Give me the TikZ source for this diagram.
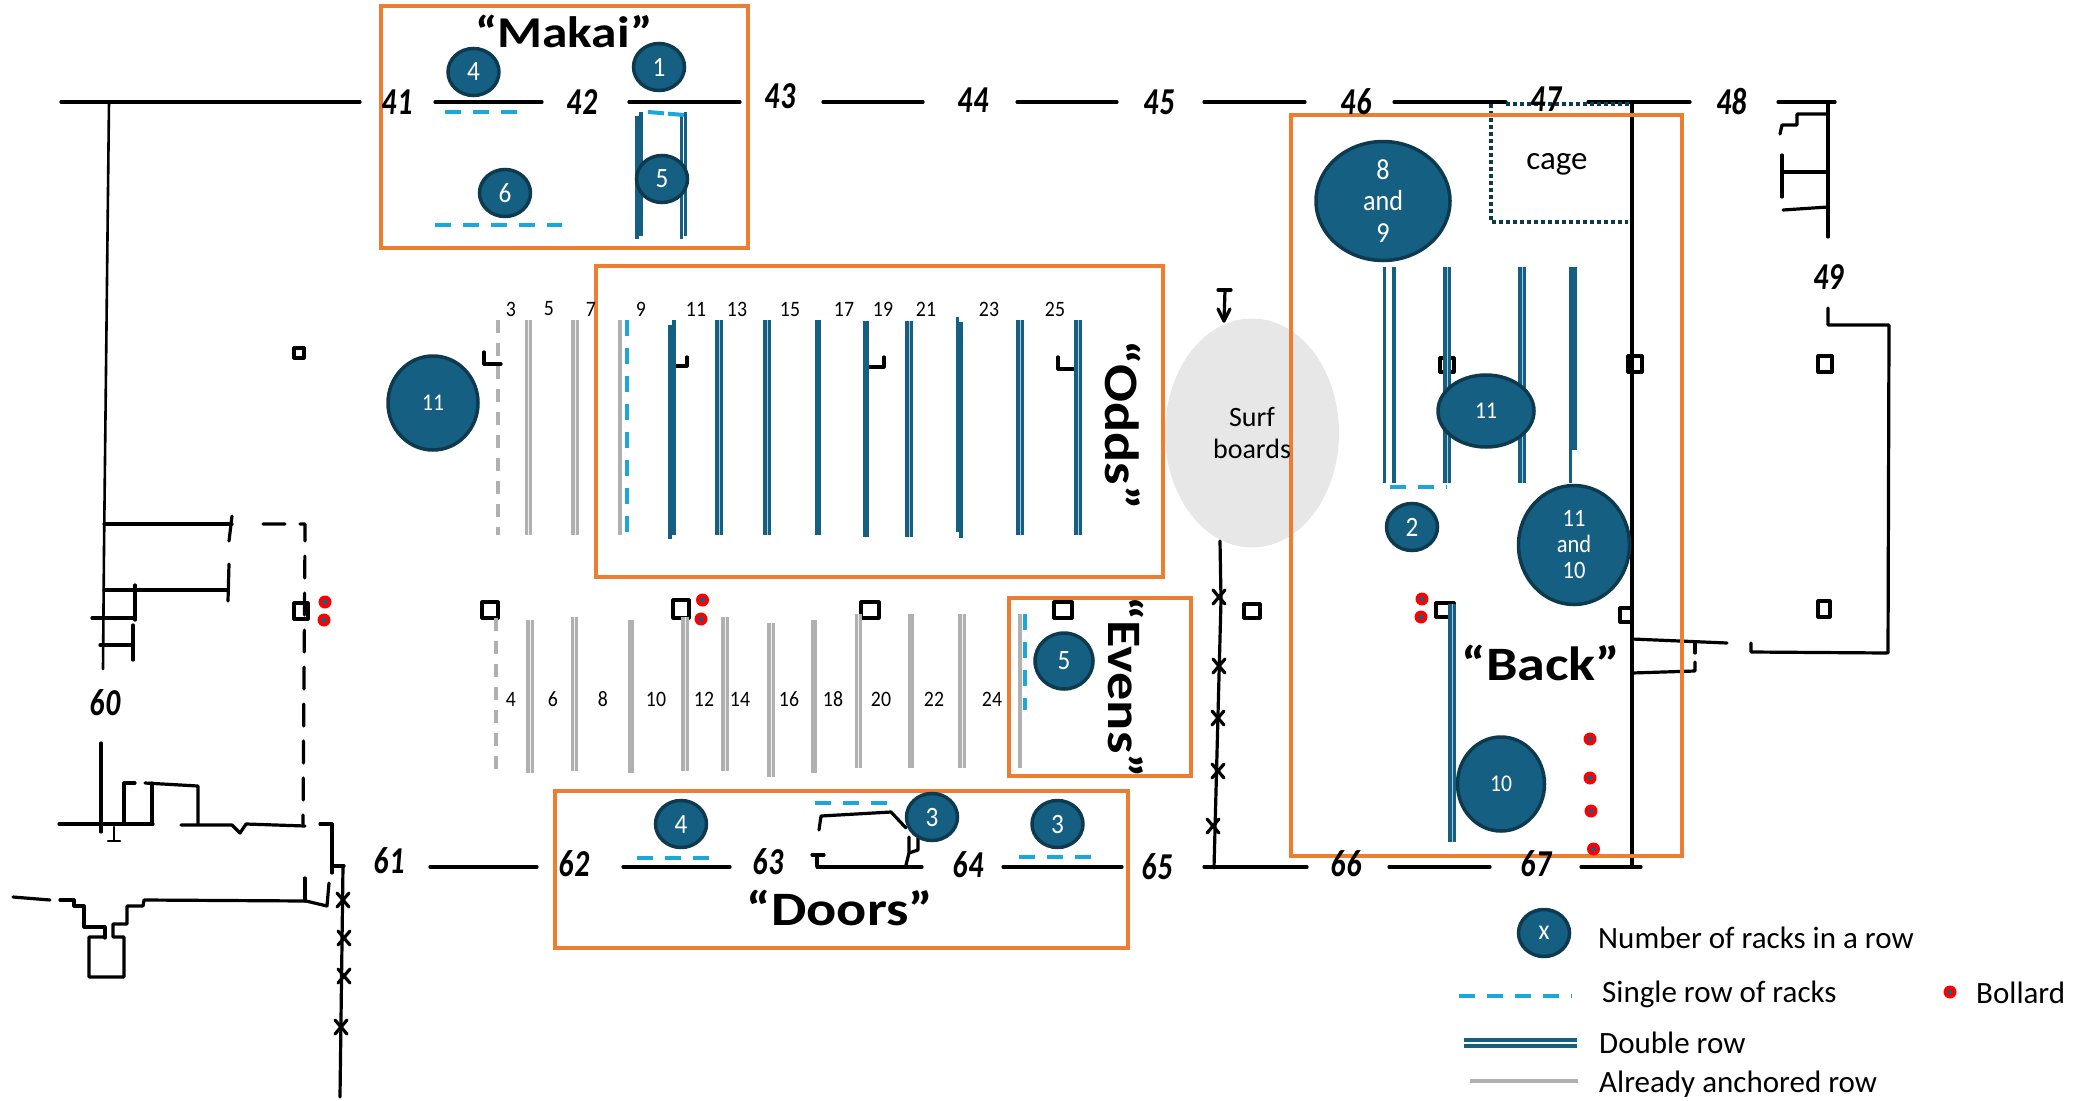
\documentclass[tikz,border=0pt]{standalone}
\usepackage{fontspec}
\usepackage{xcolor}
\usepackage{tikz}
\usetikzlibrary{shapes.geometric}
\setmainfont{Carlito}
\newfontfamily\handfont[FakeStretch=0.78, FakeSlant=0.08]{Carlito}
\newfontfamily\narrowfont[FakeStretch=0.9]{Carlito}
\newfontfamily\zonefont[FakeStretch=1.17]{Carlito}
\definecolor{rackblue}{HTML}{156082}
\definecolor{rackedge}{HTML}{0E3A50}
\definecolor{singleblue}{HTML}{1CA7DC}
\definecolor{anchorgray}{HTML}{B0B0B0}
\definecolor{zoneorange}{HTML}{ED7D31}
\definecolor{surfgray}{HTML}{E7E7E7}
\tikzset{
    wall/.style={draw=black, line width=3.2pt, line cap=round, line join=round},
    thinwall/.style={draw=black, line width=2.2pt, line cap=round, line join=round},
    zonebox/.style={draw=zoneorange, line width=4.5pt},
    singlerow/.style={draw=singleblue, line width=4pt, dash pattern=on 16pt off 12pt},
    doublerow/.style={draw=rackblue, line width=3.6pt, double=white!65!rackblue, double distance=0.7pt},
    thinrow/.style={draw=rackblue, line width=3.5pt},
    anchoredrow/.style={draw=anchorgray, line width=3.6pt, double=white!80!anchorgray, double distance=0.6pt},
    anchoredgap/.style={draw=anchorgray, line width=4pt, dash pattern=on 13pt off 10pt},
    rackcount/.style={ellipse, draw=rackedge, fill=rackblue, line width=3.5pt, inner sep=0pt, text=white, align=center, font=\narrowfont\fontsize{28}{30}\selectfont},
    bollard/.style={circle, fill=red, minimum size=13pt, inner sep=0pt},
    bollardcore/.style={circle, fill=rackblue, minimum size=5pt, inner sep=0pt},
    gridlabel/.style={font=\handfont\bfseries\fontsize{38}{38}\selectfont, inner sep=0pt},
    rowlabel/.style={font=\narrowfont\fontsize{22}{22}\selectfont, inner sep=0pt},
    zonelabel/.style={font=\zonefont\bfseries\fontsize{48}{48}\selectfont, inner sep=0pt},
    legendlabel/.style={font=\fontsize{31}{31}\selectfont, inner sep=0pt, anchor=west},
}

\begin{document}
\begin{tikzpicture}[x=1pt, y=-1pt]
    \useasboundingbox (0,0) rectangle (2098,1100);

    % Surf boards sit under everything else
    \node[ellipse, fill=surfgray, minimum width=174pt, minimum height=229pt, inner sep=0pt] (Surf) at (1252,433) {};

    % Top and bottom building lines
    \foreach \a/\b in {61/360, 435/542, 629/740, 823/923, 1017/1117, 1204/1305, 1394/1506, 1588/1690, 1778/1835}
        \draw[wall] (\a,102) -- (\b,102);
    \foreach \a/\b in {430/537, 623/730, 817/922, 1003/1122, 1204/1307, 1389/1490, 1581/1641}
        \draw[wall] (\a,867) -- (\b,867);

    % Left side of the building
    \draw[wall, line width=2.6pt] (109,102) -- (104,550) -- (103,669);
    \draw[wall] (104,524) -- (232,524);
    \draw[wall] (232,516) -- (229,541);
    \draw[wall] (104,590) -- (227,590);
    \draw[wall] (229,564) -- (228,601);
    \draw[wall] (135,585) -- (135,620);
    \draw[wall] (92,618) -- (135,618);
    \draw[wall] (100,645) -- (133,645);
    \draw[wall] (133,625) -- (133,660);
    \draw[wall, dash pattern=on 22pt off 15pt] (263,524) -- (305,524) -- (305,538) -- (303,824);
    \draw[wall] (101,743) -- (101,832);
    \draw[wall] (59,824) -- (153,824);
    \draw[wall] (124,824) -- (124,783) -- (135,783);
    \draw[wall] (152,824) -- (152,783);
    \draw[wall] (145,783) -- (198,786) -- (198,824);
    \draw[wall] (181,825) -- (232,825) -- (240,833) -- (246,824) -- (305,826);
    \draw[thinwall] (114,827) -- (114,841);
    \draw[thinwall] (108,841) -- (120,841);
    \draw[wall] (320,824) -- (332,824) -- (332,873);
    \draw[wall] (332,866) -- (344,866);
    \draw[wall] (343,866) -- (340,1097);
    \draw[wall] (13,897) -- (50,900);
    \draw[wall] (60,900) -- (74,900) -- (74,906) -- (84,906) -- (84,927) -- (105,927) -- (105,938);
    \draw[wall] (105,937) -- (89,937) -- (89,977) -- (124,977) -- (124,937) -- (113,937) -- (113,924) -- (127,924) -- (127,906) -- (143,906) -- (144,900) -- (306,901) -- (327,906) -- (329,883);
    \draw[wall] (305,878) -- (305,901);

    % Fence crosses on both sides
    \foreach \x/\y in {343/900, 344/938, 344/976, 341/1027, 1219/597, 1219/666, 1218/718, 1218/771, 1213/826} {
        \draw[wall] (\x-6,\y-7) -- (\x+6,\y+7);
        \draw[wall] (\x+6,\y-7) -- (\x-6,\y+7);
    }
    \draw[wall] (1220,541) -- (1221,600) -- (1214,868);
    \draw[wall] (1218,290) -- (1231,290);
    \draw[wall] (1225,290) -- (1224,321);
    \draw[wall] (1218,309) -- (1224,321) -- (1230,309);

    % Door sketch between 63 and 64
    \draw[wall] (817,855) -- (817,866);
    \draw[wall] (812,855) -- (824,855);
    \draw[wall] (819,830) -- (821,816) -- (891,812) -- (906,828);
    \draw[wall] (909,837) -- (909,853) -- (906,865);
    \draw[wall] (918,838) -- (918,850) -- (909,853);

    % Right side of the building
    \draw[wall] (1828,104) -- (1828,237);
    \draw[wall] (1828,114) -- (1797,114) -- (1797,125) -- (1782,125) -- (1780,134);
    \draw[wall] (1782,155) -- (1782,197);
    \draw[wall] (1782,172) -- (1828,172);
    \draw[wall] (1783,210) -- (1828,207);
    \draw[wall] (1828,308) -- (1828,325) -- (1889,325) -- (1888,653);
    \draw[wall] (1751,643) -- (1751,652) -- (1887,653);
    \draw[wall] (1632,639) -- (1727,643);
    \draw[wall] (1695,643) -- (1695,653);
    \draw[wall] (1632,673) -- (1695,671) -- (1695,662);

    % Wall along the back, with the dotted cage
    \draw[wall, line width=4.2pt, line cap=butt] (1632,104) -- (1632,869);
    \draw[rackedge, line width=3.5pt, dash pattern=on 3.5pt off 3.5pt] (1506,104) -- (1632,104) (1491,104) -- (1491,222) -- (1628,222);

    % Small columns as drawn squares
    \foreach \x/\y/\w/\h in {299/353/5/5, 301/611/7/8, 490/610/8/8, 681/609/8/9, 870/610/9/8, 1063/610/9/8, 1252/611/8/7, 1445/610/9/7, 1626/615/6/7, 1824/609/6/8, 1447/365/7/7, 1635/364/7/8, 1825/364/7/8}
        \draw[wall] (\x-\w,\y-\h) rectangle (\x+\w,\y+\h);

    % L shaped columns in the odd rows
    \foreach \a/\b/\y/\t in {484/501/364/352, 687/672/366/357, 884/868/367/357, 1058/1076/369/357}
        \draw[wall] (\a,\t) -- (\a,\y) -- (\b,\y);

    % Anchored rows
    \draw[anchoredgap] (498,320) -- (498,535);
    \foreach \x in {528.5, 575}
        \draw[anchoredrow] (\x,320) -- (\x,535);
    \draw[anchorgray, line width=4pt] (620,320) -- (620,535);
    \draw[anchoredgap] (496,618) -- (496,772);
    \foreach \x/\a/\b in {530/620/773, 574.5/617/771, 685/617/771, 725/617/771, 771/623/777, 858.5/614/768, 962/614/768}
        \draw[anchoredrow] (\x,\a) -- (\x,\b);
    \foreach \x/\a/\b/\w in {631/620/773/6.5, 814/620/773/6.5, 911/614/768/6, 1020/614/768/4}
        \draw[anchorgray, line width=\w pt] (\x,\a) -- (\x,\b);

    % Double rows
    \foreach \x/\a/\b in {719/320/535, 767/320/535, 909/321/537, 1020/320/535, 1078/320/535, 1447/267/483, 1522/267/483, 1452/604/842}
        \draw[doublerow] (\x,\a) -- (\x,\b);
    \foreach \x/\a/\b/\w in {818/320/535/6.5, 866/321/537/5.5, 669.5/325/539/4, 674/320/535/4, 957/317/532/3, 961/322/538/4, 637/116/239/3.2, 641/112/236/3.2, 681.5/116/239/3.2, 685.5/112/236/3.2, 1384.5/267/483/3.6, 1394/267/483/3.6, 1572.5/267/450/8, 1570.5/450/483/3.6}
        \draw[rackblue, line width=\w pt] (\x,\a) -- (\x,\b);

    % Single rows
    \draw[singlerow] (627,320) -- (627,535);
    \draw[singlerow] (1024.5,614) -- (1024.5,710);
    \foreach \a/\b/\y in {445/517/112, 435/562/224.5, 815/888/803, 637/709/858, 1019/1091/857, 1390/1447/487}
        \draw[singlerow] (\a,\y) -- (\b,\y);
    \draw[singlerow, dash pattern=on 16pt off 4pt] (648,112) -- (684,115);

    % Zones
    \draw[zonebox] (381,6) rectangle (748,248);
    \draw[zonebox] (596,266) rectangle (1163,577);
    \draw[zonebox] (1009,598) rectangle (1191,776);
    \draw[zonebox] (555,791) rectangle (1128,948);
    \draw[zonebox] (1291,115) rectangle (1682,856);

    % Numbers on the grid lines
    \foreach \x/\y/\t in {397/102/41, 582/102/42, 780/96/43, 973/100/44, 1159/102/45, 1356/102/46, 1546/99/47, 1731/102/48, 1828/277/49, 105/703/60, 389/861/61, 574/864/62, 768/862/63, 968/865/64, 1157/867/65, 1346/864/66, 1536/864/67}
        \node[gridlabel] (grid\t) at (\x,\y) {\t};

    % Row numbers
    \foreach \x/\t in {511/3, 549/5, 591/7, 641/9, 696/11, 737/13, 790/15, 844/17, 883/19, 926/21, 989/23, 1055/25}
        \node[rowlabel] (odd\t) at (\x,309) {\t};
    \foreach \x/\t in {511/4, 553/6, 603/8, 656/10, 704/12, 740/14, 789/16, 833/18, 881/20, 934/22, 992/24}
        \node[rowlabel] (even\t) at (\x,699) {\t};

    % Rack counts
    \foreach \n/\x/\y/\w/\h/\t in {a/473.5/72/51/47/4, b/659/67/51/47/1, c/662/179/51/47/5, d/505/193/51/47/6, e/681/824/51/47/4, f/932/817/51/47/3, g/1057.5/824/51/47/3, h/1412/527/51/47/2, k/1544/933/51/47/x, m/1064/661/58/56/5}
        \node[rackcount, minimum width=\w pt, minimum height=\h pt] (count\n) at (\x,\y) {\t};
    \foreach \n/\x/\y/\w/\h/\t in {p/433/403/90/94/11, q/1486/411/96/72/11, r/1501/784/87/94/10}
        \node[rackcount, minimum width=\w pt, minimum height=\h pt, font=\narrowfont\fontsize{24}{24}\selectfont] (count\n) at (\x,\y) {\t};
    \node[rackcount, minimum width=134pt, minimum height=119pt, font=\narrowfont\fontsize{29}{31.5}\selectfont] (countnine) at (1383,201) {8\\and\\9};
    \node[rackcount, minimum width=111pt, minimum height=119pt, font=\narrowfont\fontsize{25}{26}\selectfont] (countten) at (1574,545) {11\\and\\10};

    % Bollards
    \foreach \x/\y [count=\i] in {325/602, 324/620, 702.5/600, 701/619, 1422/599, 1421/617, 1590/739, 1590/778, 1591/811, 1593.5/849, 1950/992} {
        \node[bollard] (bollard\i) at (\x,\y) {};
        \node[bollardcore] at (bollard\i.center) {};
    }

    % Other texts
    \node[font=\fontsize{28}{32}\selectfont, align=center, inner sep=0pt] (SurfText) at (Surf) {Surf\\boards};
    \node[font=\fontsize{33}{33}\selectfont, inner sep=0pt] (Cage) at (1557,164) {cage};
    \node[zonelabel, font=\zonefont\bfseries\fontsize{44}{44}\selectfont] (Makai) at (564,31) {“Makai”};
    \node[zonelabel] (Back) at (1541,663) {“Back”};
    \node[zonelabel] (Doors) at (840,908) {“Doors”};
    \node[zonelabel, rotate=-90] (Odds) at (1123.5,425) {“Odds”};
    \node[zonelabel, rotate=-90] (Evens) at (1126,687) {“Evens”};

    % Legend
    \draw[singlerow] (1459,996) -- (1572,996);
    \draw[rackblue, line width=4pt, double=white, double distance=2pt] (1464,1043) -- (1577,1043);
    \draw[anchorgray, line width=4pt] (1470,1081) -- (1578,1081);
    \node[legendlabel] (LegendCount) at (1598,938) {Number of racks in a row};
    \node[legendlabel] (LegendSingle) at (1602,994) {Single row of racks};
    \node[legendlabel] (LegendBollard) at (1976,993) {Bollard};
    \node[legendlabel] (LegendDouble) at (1599,1043) {Double row};
    \node[legendlabel] (LegendAnchored) at (1599,1084) {Already anchored row};
\end{tikzpicture}
\end{document}
